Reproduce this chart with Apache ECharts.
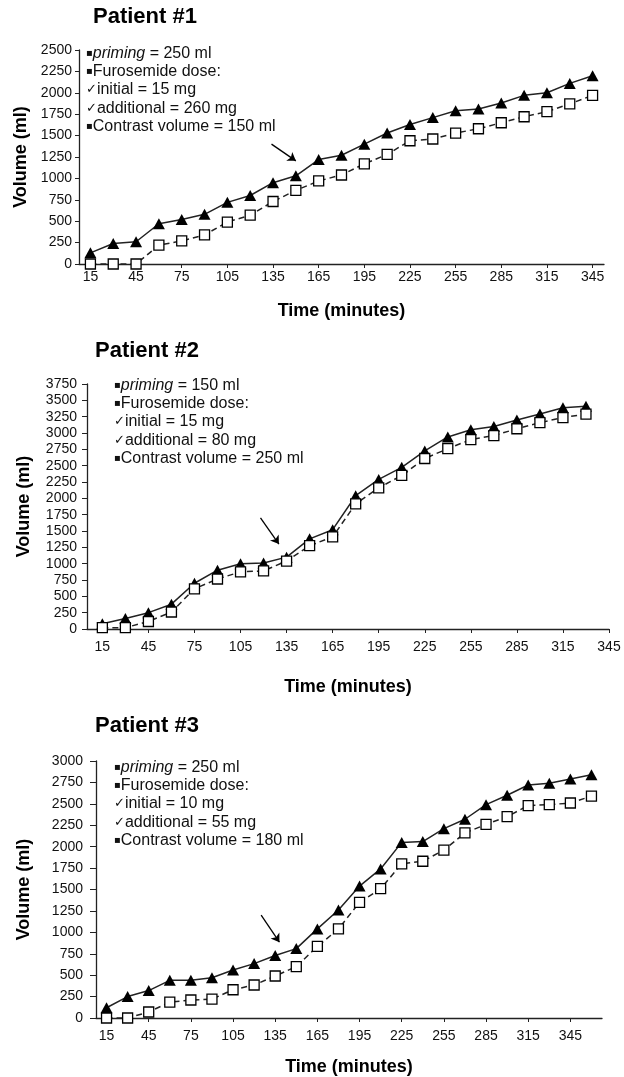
<!DOCTYPE html>
<html>
<head>
<meta charset="utf-8">
<script src="https://cdn.jsdelivr.net/npm/echarts@6/dist/echarts.min.js"></script>
<style>
  html, body { margin: 0; padding: 0; background: #fff; }
  #chart { width: 624px; height: 1077px; }
</style>
</head>
<body>
<div id="chart"></div>
<script>
// time points (minutes) for each patient
const timesP1 = [15, 30, 45, 60, 75, 90, 105, 120, 135, 150, 165, 180, 195, 210, 225, 240, 255, 270, 285, 300, 315, 330, 345];
const timesP2 = [15, 30, 45, 60, 75, 90, 105, 120, 135, 150, 165, 180, 195, 210, 225, 240, 255, 270, 285, 300, 315, 330];
const timesP3 = [15, 30, 45, 60, 75, 90, 105, 120, 135, 150, 165, 180, 195, 210, 225, 240, 255, 270, 285, 300, 315, 330, 345, 360];

// solid triangles / open squares (volume, ml)
const triP1 = [130, 240, 260, 470, 520, 580, 720, 800, 950, 1030, 1220, 1270, 1400, 1530, 1630, 1710, 1790, 1810, 1880, 1970, 2000, 2110, 2200];
const sqP1 = [0, 0, 0, 220, 270, 340, 490, 570, 730, 860, 970, 1040, 1170, 1280, 1440, 1460, 1530, 1580, 1650, 1720, 1780, 1870, 1970];

const triP2 = [80, 160, 250, 380, 700, 900, 1000, 1010, 1100, 1380, 1520, 2040, 2290, 2475, 2725, 2940, 3050, 3100, 3200, 3290, 3385, 3410];
const sqP2 = [20, 20, 115, 260, 615, 765, 875, 890, 1040, 1275, 1410, 1915, 2160, 2350, 2610, 2760, 2900, 2960, 3065, 3160, 3235, 3290];

const triP3 = [120, 250, 320, 440, 440, 470, 560, 635, 730, 810, 1040, 1260, 1540, 1740, 2050, 2060, 2210, 2320, 2490, 2600, 2720, 2740, 2790, 2840];
const sqP3 = [0, 0, 70, 185, 210, 220, 330, 385, 490, 600, 835, 1040, 1350, 1510, 1800, 1830, 1960, 2160, 2260, 2350, 2480, 2490, 2510, 2590];

// x tick labels
const ticksP1 = [15, 45, 75, 105, 135, 165, 195, 225, 255, 285, 315, 345];
const ticksP2 = [15, 45, 75, 105, 135, 165, 195, 225, 255, 285, 315, 345];
const ticksP3 = [15, 45, 75, 105, 135, 165, 195, 225, 255, 285, 315, 345];

// y axis maxima
const yMax = [2500, 3750, 3000];

// arrow annotations [start, end] in (minutes, ml)
const arrowP1 = [[134, 1400], [150, 1205]];
const arrowP2 = [[118, 1700], [130, 1300]];
const arrowP3 = [[125, 1200], [138, 885]];

// legend notes
const notes = [
  { priming: '250 ml', initial: '15 mg', additional: '260 mg', contrast: '150 ml' },
  { priming: '150 ml', initial: '15 mg', additional: '80 mg', contrast: '250 ml' },
  { priming: '250 ml', initial: '10 mg', additional: '55 mg', contrast: '180 ml' }
];

const FONT = "'Liberation Sans', Arial, sans-serif";
const chart = echarts.init(document.getElementById('chart'), null, { renderer: 'canvas' });

const panels = [
  { grid: { left: 79, right: 20, top: 50, height: 214 }, xMin: 7.5, xMax: 352.5, ticks: ticksP1,
    times: timesP1, tri: triP1, sq: sqP1, arrow: arrowP1,
    title: { left: 93, top: 6 }, note: { left: 86, top: 44 },
    yGap: 46, xGap: 38, yMargin: 7, yTick: 4, xMargin: 6 },
  { grid: { left: 87, right: 15, top: 384, height: 245 }, xMin: 5, xMax: 345, ticks: ticksP2,
    times: timesP2, tri: triP2, sq: sqP2, arrow: arrowP2,
    title: { left: 95, top: 340 }, note: { left: 114, top: 376 },
    yGap: 54, xGap: 49, yMargin: 10, yTick: 5, xMargin: 11 },
  { grid: { left: 96, right: 22, top: 761, height: 257 }, xMin: 7.5, xMax: 367.5, ticks: ticksP3,
    times: timesP3, tri: triP3, sq: sqP3, arrow: arrowP3,
    title: { left: 95, top: 715 }, note: { left: 114, top: 758 },
    yGap: 63, xGap: 40, yMargin: 13, yTick: 6, xMargin: 11 }
];

const noteRich = {
  n: { fontFamily: FONT, fontSize: 16, fontWeight: 'normal', color: '#111', lineHeight: 18.4 },
  i: { fontFamily: FONT, fontSize: 16, fontWeight: 'normal', fontStyle: 'italic', color: '#111', lineHeight: 18.4 },
  b: { fontFamily: 'DejaVu Sans', fontSize: 10, fontWeight: 'normal', color: '#111', lineHeight: 18.4 },
  c: { fontFamily: 'DejaVu Sans', fontSize: 13, fontWeight: 'normal', color: '#111', lineHeight: 18.4 }
};

const titles = [];
const grids = [];
const xAxes = [];
const yAxes = [];
const series = [];

panels.forEach((p, k) => {
  const n = notes[k];
  titles.push({
    text: 'Patient #' + (k + 1), left: p.title.left, top: p.title.top, padding: 0,
    textStyle: { fontFamily: FONT, fontSize: 22, fontWeight: 'bold', color: '#000' }
  });
  titles.push({
    text: '{b|▪}{i|priming}{n| = ' + n.priming + '}\n' +
          '{b|▪}{n|Furosemide dose:}\n' +
          '{c|✓}{n|initial = ' + n.initial + '}\n' +
          '{c|✓}{n|additional = ' + n.additional + '}\n' +
          '{b|▪}{n|Contrast volume = ' + n.contrast + '}',
    left: p.note.left, top: p.note.top, padding: 0,
    textStyle: { rich: noteRich, fontWeight: 'normal', lineHeight: 18.4 }
  });

  grids.push(Object.assign({ outerBoundsMode: 'none' }, p.grid));

  xAxes.push({
    gridIndex: k, type: 'value', min: p.xMin, max: p.xMax,
    name: 'Time (minutes)', nameLocation: 'middle', nameGap: p.xGap,
    nameTextStyle: { fontFamily: FONT, fontSize: 18, fontWeight: 'bold', color: '#000' },
    axisLine: { show: true, lineStyle: { color: '#222', width: 1.3 } },
    axisTick: { show: true, length: 4, customValues: p.ticks, lineStyle: { color: '#222' } },
    axisLabel: { customValues: p.ticks, margin: p.xMargin, fontFamily: FONT, fontSize: 14, color: '#111' },
    splitLine: { show: false }
  });

  yAxes.push({
    gridIndex: k, type: 'value', min: 0, max: yMax[k], interval: 250,
    name: 'Volume (ml)', nameLocation: 'middle', nameGap: p.yGap,
    nameTextStyle: { fontFamily: FONT, fontSize: 18, fontWeight: 'bold', color: '#000' },
    axisLine: { show: true, lineStyle: { color: '#222', width: 1.3 } },
    axisTick: { show: true, length: p.yTick, lineStyle: { color: '#222' } },
    axisLabel: { margin: p.yMargin, fontFamily: FONT, fontSize: 14, color: '#111',
                 formatter: v => String(v) },
    splitLine: { show: false }
  });

  series.push({
    type: 'line', xAxisIndex: k, yAxisIndex: k,
    data: p.times.map((t, i) => [t, p.tri[i]]),
    symbol: 'triangle', symbolSize: [12, 11],
    lineStyle: { color: '#222', width: 1.5 },
    itemStyle: { color: '#000' },
    markLine: {
      silent: true, symbol: ['none', 'arrow'], symbolSize: 8,
      label: { show: false },
      lineStyle: { color: '#000', width: 1.3, type: 'solid' },
      data: [[{ coord: p.arrow[0] }, { coord: p.arrow[1] }]]
    }
  });
  series.push({
    type: 'line', xAxisIndex: k, yAxisIndex: k,
    data: p.times.map((t, i) => [t, p.sq[i]]),
    symbol: 'rect', symbolSize: 10,
    lineStyle: { color: '#222', width: 1.5, type: [6, 4] },
    itemStyle: { color: '#fff', borderColor: '#000', borderWidth: 1.3 }
  });
});

chart.setOption({
  animation: false,
  title: titles,
  grid: grids,
  xAxis: xAxes,
  yAxis: yAxes,
  series: series
});

window.addEventListener('resize', () => chart.resize());
</script>
</body>
</html>
